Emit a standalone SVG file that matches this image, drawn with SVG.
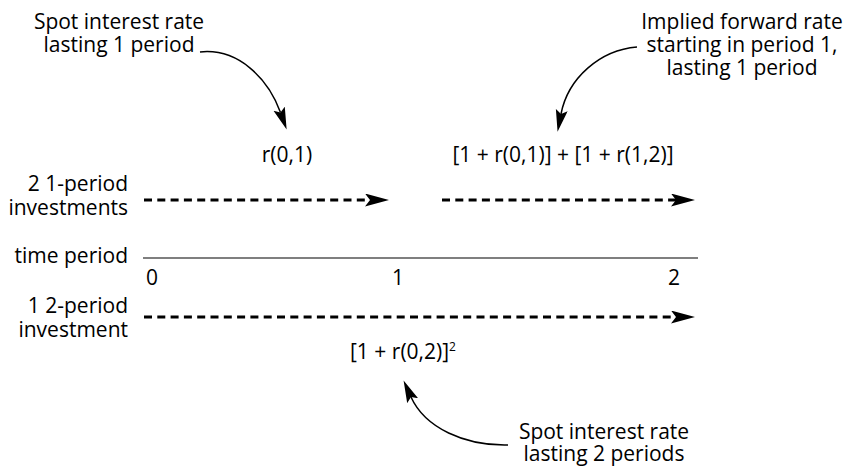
<svg xmlns="http://www.w3.org/2000/svg" width="847" height="467" viewBox="0 0 847 467">
<style>
text{font-family:"Open Sans","Noto Sans","Liberation Sans",sans-serif;font-size:21px;fill:#000}
.c{text-anchor:middle}
.r{text-anchor:end}
.dash{fill:none;stroke:#000;stroke-width:2.8;stroke-dasharray:8 5.3}
.curve{fill:none;stroke:#000;stroke-width:1.5}
.axis{fill:none;stroke:#000;stroke-width:1.2}
</style>
<defs>
<marker id="big" markerUnits="userSpaceOnUse" markerWidth="26" markerHeight="14" refX="5" refY="6.5" orient="auto">
<path d="M0,0 L24,6.5 L0,13 L5,6.5 Z" fill="#000" stroke="none"/>
</marker>
<marker id="small" markerUnits="userSpaceOnUse" markerWidth="24" markerHeight="14" refX="4" refY="6" orient="auto">
<path d="M0,0 L22,6 L0,12 L4,6 Z" fill="#000" stroke="none"/>
</marker>
</defs>
<g id="connectors">
<path class="dash" d="M144,200 H370" marker-end="url(#big)"/>
<path class="dash" d="M442,200 H676" marker-end="url(#big)"/>
<path class="axis" d="M143,258 H698"/>
<path class="dash" d="M144,317 H676" marker-end="url(#big)"/>
<path class="curve" d="M200,52 C238,48 268,78 280.5,112.5" marker-end="url(#small)"/>
<path class="curve" d="M637,47 C600,50 568,78 561,114" marker-end="url(#small)"/>
<path class="curve" d="M508,445 C465,446 425,428 411,397" marker-end="url(#small)"/>
</g>
<g id="spot1-label"><text class="c" x="119" y="29">Spot interest rate<tspan x="119" dy="23">lasting 1 period</tspan></text></g>
<g id="forward-label"><text class="c" x="742" y="29">Implied forward rate<tspan x="742" dy="23">starting in period 1,</tspan><tspan x="742" dy="23">lasting 1 period</tspan></text></g>
<g id="r01"><text class="c" x="287" y="162">r(0,1)</text></g>
<g id="product"><text class="c" x="563" y="162">[1 + r(0,1)] + [1 + r(1,2)]</text></g>
<g id="row1-label"><text class="r" x="128" y="191">2 1-period<tspan x="128" dy="24">investments</tspan></text></g>
<g id="time-label"><text class="r" x="128" y="263">time period</text></g>
<g id="ticks"><text class="c" x="152" y="285">0</text><text class="c" x="398" y="285">1</text><text class="c" x="674" y="285">2</text></g>
<g id="row2-label"><text class="r" x="128" y="313">1 2-period<tspan x="128" dy="24">investment</tspan></text></g>
<g id="r02"><text x="350" y="359">[1 + r(0,2)]<tspan font-size="12" dy="-8">2</tspan></text></g>
<g id="spot2-label"><text class="c" x="604" y="439">Spot interest rate<tspan x="604" dy="22">lasting 2 periods</tspan></text></g>
</svg>
